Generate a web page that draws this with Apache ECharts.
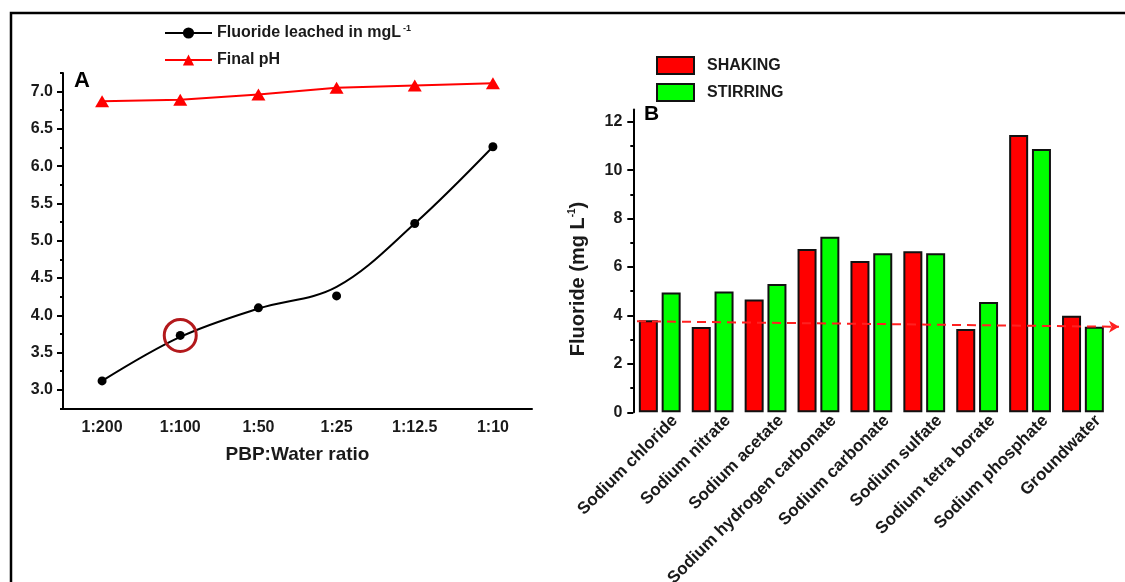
<!DOCTYPE html>
<html><head><meta charset="utf-8">
<script src="https://cdn.jsdelivr.net/npm/echarts@6/dist/echarts.min.js"></script>
<style>html,body{margin:0;padding:0;background:#fff}#c{width:1125px;height:582px}</style>
</head><body><div id="c"></div>
<script>
// ---- Panel A data ----
const ratios = ['1:200', '1:100', '1:50', '1:25', '1:12.5', '1:10'];
const fluorideLeached = [3.12, 3.73, 4.10, 4.26, 5.23, 6.26];
const fluorideFitCurve = [3.12, 3.71, 4.09, 4.38, 5.23, 6.26];
const finalPH = [6.87, 6.89, 6.96, 7.05, 7.08, 7.11];
const leftYTicks = [3.0, 3.5, 4.0, 4.5, 5.0, 5.5, 6.0, 6.5, 7.0];
const leftYMinorTicks = [2.75, 3.25, 3.75, 4.25, 4.75, 5.25, 5.75, 6.25, 6.75, 7.25];

// ---- Panel B data ----
const salts = ['Sodium chloride', 'Sodium nitrate', 'Sodium acetate', 'Sodium hydrogen carbonate',
  'Sodium carbonate', 'Sodium sulfate', 'Sodium tetra borate', 'Sodium phosphate', 'Groundwater'];
const shaking = [3.80, 3.52, 4.66, 6.74, 6.25, 6.65, 3.44, 11.45, 3.99];
const stirring = [4.95, 4.99, 5.30, 7.25, 6.57, 6.57, 4.55, 10.87, 3.53];
const referenceLine = [3.76, 3.53];
const rightYTicks = [0, 2, 4, 6, 8, 10, 12];
const rightYMinorTicks = [1, 3, 5, 7, 9, 11];

const FONT = '"Liberation Sans", Arial, sans-serif';
const TXT = '#1a1a1a';
const FL = 'Fluoride leached in mgL-1';

const chart = echarts.init(document.getElementById('c'), null, {renderer: 'canvas'});
const axisLineStyle = {color: '#000', width: 2};

const option = {
  animation: false,
  backgroundColor: '#fff',
  textStyle: {fontFamily: FONT},
  grid: [
    {left: 63, right: 593, top: 72.9, bottom: 173.5, containLabel: false, outerBoundsMode: 'none'},
    {left: 633.3, right: 15.6, top: 109.6, bottom: 169.7, containLabel: false, outerBoundsMode: 'none'}
  ],
  legend: [
    {
      orient: 'vertical', left: 164, top: 24, padding: 0, itemWidth: 47, itemHeight: 14, itemGap: 11,
      selectedMode: false,
      data: [
        {name: FL, lineStyle: {color: '#000', width: 2, opacity: 1}},
        {name: 'Final pH'}
      ],
      formatter: n => n === FL ? '{a|Fluoride leached in mgL}{s|-1}' : '{a|Final pH}',
      textStyle: {
        rich: {
          a: {fontSize: 16, fontWeight: 'bold', color: TXT, fontFamily: FONT, lineHeight: 18},
          s: {fontSize: 9, fontWeight: 'bold', color: TXT, fontFamily: FONT, verticalAlign: 'top', lineHeight: 18, padding: [0, 0, 0, 2]}
        }
      }
    },
    {
      orient: 'vertical', left: 656, top: 56, padding: 0, itemWidth: 37, itemHeight: 17, itemGap: 8,
      selectedMode: false, icon: 'rect',
      data: ['SHAKING', 'STIRRING'],
      textStyle: {fontSize: 16, fontWeight: 'bold', color: TXT, fontFamily: FONT, lineHeight: 17, padding: [0, 0, 0, 8]}
    }
  ],
  xAxis: [
    {
      gridIndex: 0, type: 'category', data: ratios, boundaryGap: true,
      axisLine: {lineStyle: axisLineStyle},
      axisTick: {alignWithLabel: true, length: 6, lineStyle: axisLineStyle},
      axisLabel: {interval: 0, margin: 11, fontSize: 16, fontWeight: 'bold', color: TXT, fontFamily: FONT},
      name: 'PBP:Water ratio', nameLocation: 'middle', nameGap: 37,
      nameTextStyle: {fontSize: 19, fontWeight: 'bold', color: TXT, fontFamily: FONT}
    },
    {
      gridIndex: 0, type: 'category', data: ratios, position: 'bottom', boundaryGap: true,
      axisLine: {show: false},
      axisTick: {interval: 0, length: 3, lineStyle: axisLineStyle},
      axisLabel: {show: false}
    },
    {
      gridIndex: 1, type: 'category', data: salts,
      axisLine: {show: false}, axisTick: {show: false},
      axisLabel: {interval: 0, rotate: 45, margin: 9, verticalAlign: 'top', fontSize: 17, fontWeight: 'bold', color: TXT, fontFamily: FONT, padding: [0, -13, 0, 0]}
    }
  ],
  yAxis: [
    {
      gridIndex: 0, type: 'value', position: 'left', min: 2.75, max: 7.25,
      splitLine: {show: false},
      axisLine: {show: true, lineStyle: axisLineStyle},
      axisTick: {show: true, length: 6, customValues: leftYTicks, lineStyle: axisLineStyle},
      axisLabel: {customValues: leftYTicks, formatter: v => Number(v).toFixed(1), margin: 10, fontSize: 16, fontWeight: 'bold', color: TXT, fontFamily: FONT}
    },
    {
      gridIndex: 0, type: 'value', position: 'left', min: 2.75, max: 7.25,
      splitLine: {show: false}, axisLine: {show: false},
      axisTick: {show: true, length: 3, customValues: leftYMinorTicks, lineStyle: axisLineStyle},
      axisLabel: {show: false}
    },
    {
      gridIndex: 1, type: 'value', position: 'left', min: 0, max: 12.5,
      splitLine: {show: false},
      axisLine: {show: true, lineStyle: axisLineStyle},
      axisTick: {show: true, length: 6, customValues: rightYTicks, lineStyle: axisLineStyle},
      axisLabel: {customValues: rightYTicks, margin: 11, fontSize: 16, fontWeight: 'bold', color: TXT, fontFamily: FONT},
      name: '{a|Fluoride (mg L}{s|-1}{a|)}', nameLocation: 'middle', nameGap: 44, nameRotate: 90,
      nameTextStyle: {
        padding: [0, 36, 0, 0],
        rich: {
          a: {fontSize: 20, fontWeight: 'bold', color: TXT, fontFamily: FONT, lineHeight: 22},
          s: {fontSize: 10, fontWeight: 'bold', color: TXT, fontFamily: FONT, verticalAlign: 'top', lineHeight: 22}
        }
      }
    },
    {
      gridIndex: 1, type: 'value', position: 'left', min: 0, max: 12.5,
      splitLine: {show: false}, axisLine: {show: false},
      axisTick: {show: true, length: 3, customValues: rightYMinorTicks, lineStyle: axisLineStyle},
      axisLabel: {show: false}
    }
  ],
  series: [
    {
      name: 'Fluoride fitted curve', type: 'line', xAxisIndex: 0, yAxisIndex: 0,
      data: fluorideFitCurve, smooth: 0.35, symbol: 'none', showSymbol: false,
      lineStyle: {color: '#000', width: 2}, silent: true, z: 2
    },
    {
      name: FL, type: 'line', xAxisIndex: 0, yAxisIndex: 0,
      data: fluorideLeached, symbol: 'circle', symbolSize: 9,
      itemStyle: {color: '#000'}, lineStyle: {color: '#000', opacity: 0}, z: 3,
      markPoint: {
        symbol: 'circle', symbolSize: 32, silent: true,
        itemStyle: {color: 'rgba(0,0,0,0)', borderColor: '#b3191c', borderWidth: 3},
        label: {show: false},
        data: [{coord: [ratios[1], fluorideLeached[1]]}]
      }
    },
    {
      name: 'Final pH', type: 'line', xAxisIndex: 0, yAxisIndex: 0,
      data: finalPH, symbol: 'triangle', symbolSize: [14, 12],
      itemStyle: {color: '#ff0000'}, lineStyle: {color: '#ff0000', width: 2}, z: 3
    },
    {
      name: 'SHAKING', type: 'bar', xAxisIndex: 2, yAxisIndex: 2,
      data: shaking, barWidth: 19, barGap: '20%', clip: false,
      itemStyle: {color: '#ff0000', borderColor: '#111', borderWidth: 2},
      markLine: {
        silent: true, symbol: ['none', 'arrow'], symbolSize: [9, 10],
        label: {show: false},
        lineStyle: {color: '#ff2020', width: 2, type: [9, 6]},
        data: [[
          {coord: [salts[0], referenceLine[0]], x: 637},
          {coord: [salts[salts.length - 1], referenceLine[1]], x: 1119}
        ]],
        z: 10
      }
    },
    {
      name: 'STIRRING', type: 'bar', xAxisIndex: 2, yAxisIndex: 2,
      data: stirring, barWidth: 19, barGap: '20%', clip: false,
      itemStyle: {color: '#00ff00', borderColor: '#111', borderWidth: 2}
    }
  ],
  graphic: [
    {type: 'polyline', shape: {points: [[11, 582], [11, 13], [1125, 13]]}, style: {stroke: '#000', lineWidth: 2.5, fill: null}, silent: true},
    {type: 'text', left: 74, top: 70, style: {text: 'A', fontSize: 22, fontWeight: 'bold', fill: '#000', fontFamily: FONT}},
    {type: 'text', left: 644, top: 104, style: {text: 'B', fontSize: 21, fontWeight: 'bold', fill: '#000', fontFamily: FONT}}
  ]
};
chart.setOption(option);
</script>
</body></html>
